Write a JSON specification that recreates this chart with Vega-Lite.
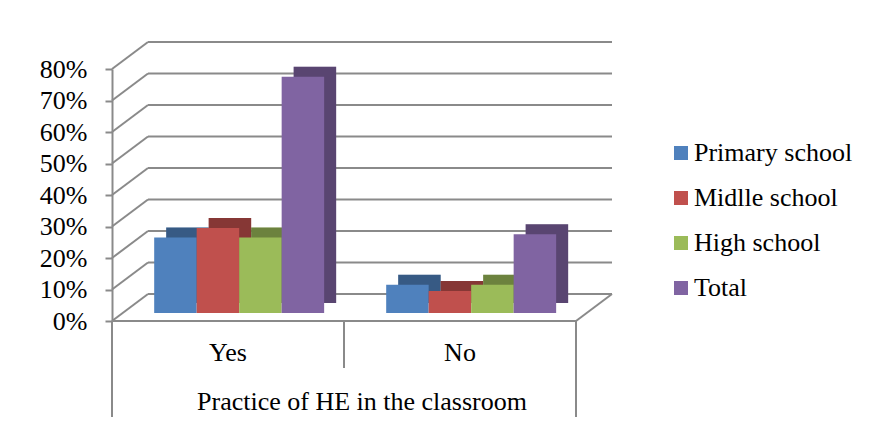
{
  "$schema": "https://vega.github.io/schema/vega-lite/v6.json",
  "padding": {"left": 39, "top": 41, "right": 5, "bottom": 5},
  "background": "white",
  "bounds": "flush",
  "data": {
    "values": [
      {"Response": "Yes", "School": "Primary school", "Value": 0.24},
      {"Response": "Yes", "School": "Midlle school", "Value": 0.27},
      {"Response": "Yes", "School": "High school", "Value": 0.24},
      {"Response": "Yes", "School": "Total", "Value": 0.75},
      {"Response": "No", "School": "Primary school", "Value": 0.09},
      {"Response": "No", "School": "Midlle school", "Value": 0.07},
      {"Response": "No", "School": "High school", "Value": 0.09},
      {"Response": "No", "School": "Total", "Value": 0.25},
      {"Response": "Yes", "Tick": 0}, {"Response": "Yes", "Tick": 0.1}, {"Response": "Yes", "Tick": 0.2},
      {"Response": "Yes", "Tick": 0.3}, {"Response": "Yes", "Tick": 0.4}, {"Response": "Yes", "Tick": 0.5},
      {"Response": "Yes", "Tick": 0.6}, {"Response": "Yes", "Tick": 0.7}, {"Response": "Yes", "Tick": 0.8},
      {"Response": "No", "Tick": 0}, {"Response": "No", "Tick": 0.1}, {"Response": "No", "Tick": 0.2},
      {"Response": "No", "Tick": 0.3}, {"Response": "No", "Tick": 0.4}, {"Response": "No", "Tick": 0.5},
      {"Response": "No", "Tick": 0.6}, {"Response": "No", "Tick": 0.7}, {"Response": "No", "Tick": 0.8}
    ]
  },
  "facet": {
    "column": {
      "field": "Response",
      "type": "nominal",
      "sort": ["Yes", "No"],
      "title": "Practice of HE in the classroom",
      "header": {
        "labelOrient": "bottom",
        "titleOrient": "bottom",
        "labelFont": "Liberation Serif",
        "labelFontSize": 26,
        "labelColor": "black",
        "labelPadding": 19,
        "titleFont": "Liberation Serif",
        "titleFontSize": 26,
        "titleFontWeight": "normal",
        "titleColor": "black",
        "titlePadding": 13
      }
    }
  },
  "spacing": 0,
  "spec": {
    "width": 232,
    "height": 252,
    "resolve": {"scale": {"x": "independent"}},
    "encoding": {
      "y": {"field": "Tick", "type": "quantitative", "scale": {"domain": [0, 0.8]}, "axis": {
        "values": [0, 0.1, 0.2, 0.3, 0.4, 0.5, 0.6, 0.7, 0.8],
        "format": ".0%", "title": null, "grid": false, "labelOverlap": false,
        "domainColor": "#8a8a8a", "domainWidth": 2, "tickColor": "#8a8a8a", "tickWidth": 2, "tickSize": 7,
        "labelFont": "Liberation Serif", "labelFontSize": 26, "labelColor": "black", "labelPadding": 18
      }}
    },
    "layer": [
      {
        "transform": [{"filter": {"field": "Tick", "valid": true}}],
        "mark": {"type": "rule", "color": "#8a8a8a", "strokeWidth": 2, "xOffset": 36, "x2Offset": 36, "yOffset": -27, "y2Offset": -27},
        "encoding": {
          "x": {"datum": 0, "type": "quantitative", "scale": {"domain": [0, 1]}, "axis": null},
          "x2": {"datum": 1}
        }
      },
      {
        "transform": [{"filter": {"field": "Tick", "valid": true}}, {"filter": {"field": "Response", "equal": "Yes"}}],
        "mark": {"type": "rule", "color": "#8a8a8a", "strokeWidth": 2, "x2Offset": 36, "y2Offset": -27},
        "encoding": {
          "x": {"datum": 0, "type": "quantitative", "scale": {"domain": [0, 1]}, "axis": null},
          "x2": {"datum": 0},
          "y2": {"field": "Tick"}
        }
      },
      {
        "transform": [{"filter": {"field": "Tick", "equal": 0}}, {"filter": {"field": "Response", "equal": "No"}}],
        "mark": {"type": "rule", "color": "#8a8a8a", "strokeWidth": 2, "x2Offset": 36, "y2Offset": -27},
        "encoding": {
          "x": {"datum": 1, "type": "quantitative", "scale": {"domain": [0, 1]}, "axis": null},
          "x2": {"datum": 1},
          "y2": {"field": "Tick"}
        }
      },
      {
        "transform": [{"filter": {"field": "Tick", "equal": 0}}],
        "mark": {"type": "rule", "color": "#8a8a8a", "strokeWidth": 2},
        "encoding": {
          "x": {"datum": 0, "type": "quantitative", "scale": {"domain": [0, 1]}, "axis": null},
          "x2": {"datum": 1}
        }
      },
      {
        "transform": [{"filter": {"field": "Tick", "equal": 0}}, {"filter": {"field": "Response", "equal": "Yes"}}],
        "mark": {"type": "rule", "color": "#8a8a8a", "strokeWidth": 2, "y2Offset": 96},
        "encoding": {
          "x": {"datum": 0, "type": "quantitative", "scale": {"domain": [0, 1]}, "axis": null},
          "y2": {"field": "Tick"}
        }
      },
      {
        "transform": [{"filter": {"field": "Tick", "equal": 0}}, {"filter": {"field": "Response", "equal": "No"}}],
        "mark": {"type": "rule", "color": "#8a8a8a", "strokeWidth": 2, "y2Offset": 96},
        "encoding": {
          "x": {"datum": 1, "type": "quantitative", "scale": {"domain": [0, 1]}, "axis": null},
          "y2": {"field": "Tick"}
        }
      },
      {
        "transform": [{"filter": {"field": "Tick", "equal": 0}}, {"filter": {"field": "Response", "equal": "Yes"}}],
        "mark": {"type": "rule", "color": "#8a8a8a", "strokeWidth": 2, "y2Offset": 47},
        "encoding": {
          "x": {"datum": 1, "type": "quantitative", "scale": {"domain": [0, 1]}, "axis": null},
          "y2": {"field": "Tick"}
        }
      },
      {
        "transform": [{"filter": {"field": "Value", "valid": true}}],
        "mark": {"type": "bar", "xOffset": 12, "x2Offset": 12, "yOffset": -18, "y2Offset": -18},
        "encoding": {
          "x": {"field": "School", "type": "nominal", "sort": ["Primary school", "Midlle school", "High school", "Total"],
            "scale": {"paddingInner": 0, "paddingOuter": 0.73, "align": 0.68}, "axis": null},
          "y": {"field": "Value", "type": "quantitative"},
          "color": {"field": "School", "type": "nominal", "sort": ["Primary school", "Midlle school", "High school", "Total"],
            "scale": {"domain": ["Primary school", "Midlle school", "High school", "Total"], "range": ["#4F81BD", "#C0504D", "#9BBB59", "#8064A2"]},
            "legend": {"title": null, "orient": "none", "legendX": 556, "legendY": 71,
              "labelFont": "Liberation Serif", "labelFontSize": 26, "labelColor": "black",
              "symbolType": "square", "symbolSize": 196, "symbolStrokeWidth": 0, "rowPadding": 19, "labelOffset": 0}}
        }
      },
      {
        "transform": [{"filter": {"field": "Value", "valid": true}}],
        "mark": {"type": "bar", "color": "black", "opacity": 0.3, "xOffset": 12, "x2Offset": 12, "yOffset": -18, "y2Offset": -18},
        "encoding": {
          "x": {"field": "School", "type": "nominal", "sort": ["Primary school", "Midlle school", "High school", "Total"],
            "scale": {"paddingInner": 0, "paddingOuter": 0.73, "align": 0.68}, "axis": null},
          "y": {"field": "Value", "type": "quantitative"}
        }
      },
      {
        "transform": [{"filter": {"field": "Value", "valid": true}}],
        "mark": {"type": "bar", "yOffset": -8, "y2Offset": -8},
        "encoding": {
          "x": {"field": "School", "type": "nominal", "sort": ["Primary school", "Midlle school", "High school", "Total"],
            "scale": {"paddingInner": 0, "paddingOuter": 0.73, "align": 0.68}, "axis": null},
          "y": {"field": "Value", "type": "quantitative"},
          "color": {"field": "School", "type": "nominal", "sort": ["Primary school", "Midlle school", "High school", "Total"]}
        }
      }
    ]
  },
  "config": {"view": {"stroke": null}, "axis": {"labelOverlap": false}, "axisY": {"labelOverlap": false}}
}
